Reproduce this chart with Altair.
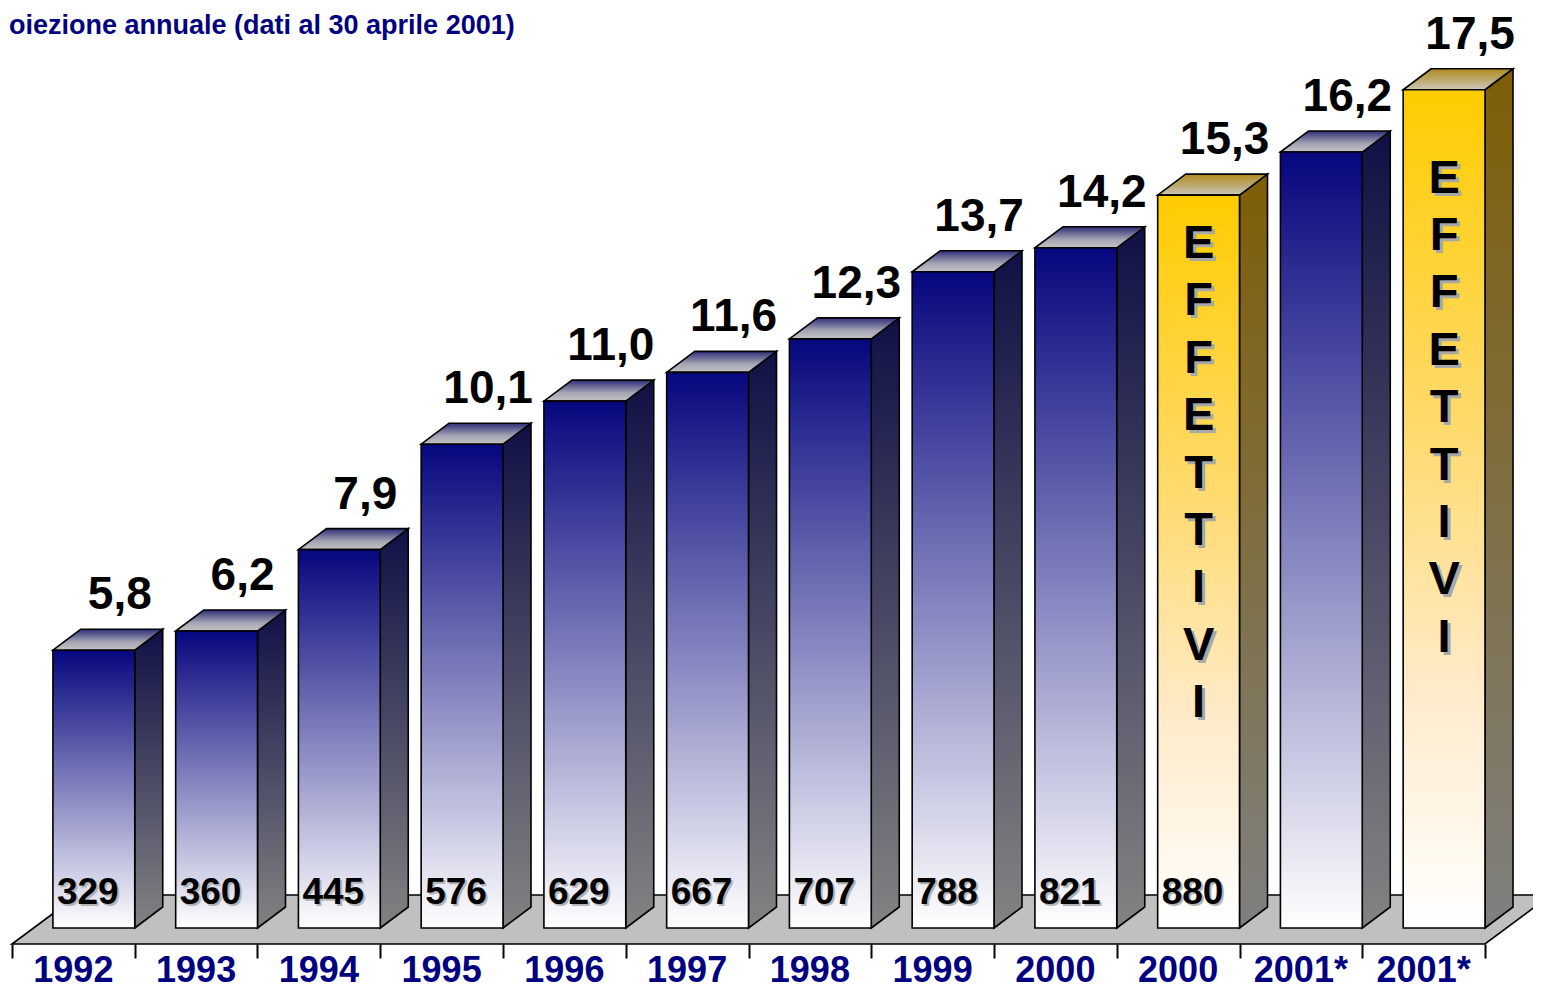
import altair as alt
import pandas as pd

# ---------------- data ----------------
years = ["1992", "1993", "1994", "1995", "1996", "1997", "1998", "1999",
         "2000", "2000", "2001*", "2001*"]
values = [5.8, 6.2, 7.9, 10.1, 11.0, 11.6, 12.3, 13.7, 14.2, 15.3, 16.2, 17.5]
counts = ["329", "360", "445", "576", "629", "667", "707", "788", "821", "880", "", ""]
kinds = ["storico"] * 9 + ["effettivi", "stima", "effettivi"]
notes = [""] * 9 + ["EFFETTIVI", "", "EFFETTIVI"]
title_text = ["oiezione annuale (dati al 30 aprile  2001)"]

# ---------------- layout (pixels) ----------------
PAGE_W = 1541
ZERO_Y = 928          # pixel row of value 0
PX_X = 122.75         # pixels per category slot
PX_Y = 47.9           # pixels per unit of value
AXIS_LEFT = 12
DEPTH_X, DEPTH_Y = 28, 21        # 3D depth of bars (px)
FLOOR_FRONT, FLOOR_BACK, FLOOR_DX = 16, 33, 66
LINE_H = 57.4
N_LETTERS = 9

n = len(values)
ddx = DEPTH_X / PX_X
ddy = DEPTH_Y / PX_Y

rows = []
for i in range(n):
    rows.append(dict(i=i, year=years[i], value=values[i], kind=kinds[i],
                     count=counts[i], note="\n".join(notes[i]) if notes[i] else "",
                     label=f"{values[i]:.1f}".replace(".", ","),
                     xl=i + 1 / 3, xr=i + 1.0, xc=i + 2 / 3, xmid=i + 0.5,
                     zero=0.0, notey=values[i] * 0.62))
bars = pd.DataFrame(rows)

side_rows, top_rows = [], []
for r in rows:
    side_rows.append(dict(i=r["i"], kind=r["kind"], x=r["xr"], y=0.0, y2=r["value"]))
    side_rows.append(dict(i=r["i"], kind=r["kind"], x=r["xr"] + ddx, y=ddy, y2=r["value"] + ddy))
    top_rows.append(dict(i=r["i"], kind=r["kind"], y=r["value"], x=r["xl"], x2=r["xr"]))
    top_rows.append(dict(i=r["i"], kind=r["kind"], y=r["value"] + ddy, x=r["xl"] + ddx, x2=r["xr"] + ddx))
side = pd.DataFrame(side_rows)
top = pd.DataFrame(top_rows)

floor = pd.DataFrame([
    dict(y=-FLOOR_FRONT / PX_Y, x=0.0, x2=float(n)),
    dict(y=FLOOR_BACK / PX_Y, x=FLOOR_DX / PX_X, x2=n + FLOOR_DX / PX_X),
])

# ---------------- scales ----------------
xs = alt.Scale(domain=[-AXIS_LEFT / PX_X, (PAGE_W - AXIS_LEFT) / PX_X], nice=False, zero=False)
ys = alt.Scale(domain=[0, ZERO_Y / PX_Y], nice=False, zero=False)
xaxis = alt.Axis(values=list(range(n + 1)), labels=False, domain=False, grid=False,
                 ticks=True, tickSize=14, tickWidth=2, tickColor="black",
                 offset=16, title=None)


def X(f):
    return alt.X(f, type="quantitative", scale=xs, axis=xaxis)


def Y(f):
    return alt.Y(f, type="quantitative", scale=ys, axis=None)


def grad(stops):
    return alt.LinearGradient(
        gradient="linear", x1=0, y1=0, x2=0, y2=1,
        stops=[alt.GradientStop(offset=o, color=c) for o, c in stops])


FONT = "Liberation Sans"
SW = 1.6
is_yel = alt.datum.kind == "effettivi"
is_blue = alt.datum.kind != "effettivi"

styles = {
    "blue": dict(
        front=grad([(0, "#06067E"), (1, "#FFFFFF")]),
        side=grad([(0, "#101046"), (1, "#838383")]),
        top=grad([(0, "#2E2E78"), (0.6, "#A4A4B4"), (1, "#C4C4C4")]),
        filt=is_blue),
    "yellow": dict(
        front=grad([(0, "#FFCC00"), (0.4, "#FFDA6C"), (0.72, "#FFEBCB"), (1, "#FFFFFF")]),
        side=grad([(0, "#7E5E06"), (1, "#808080")]),
        top=grad([(0, "#AE8A1E"), (1, "#CBC6B8")]),
        filt=is_yel),
}

layers = []
layers.append(alt.Chart(floor).mark_area(
    orient="horizontal", fill="#C0C0C0", stroke="black", strokeWidth=SW
).encode(y=Y("y"), x=X("x"), x2="x2"))

for key, st in styles.items():
    layers.append(
        alt.Chart(side).transform_filter(st["filt"]).mark_area(
            orient="vertical", fill=st["side"], stroke="black", strokeWidth=SW,
            strokeJoin="miter"
        ).encode(x=X("x"), y=Y("y"), y2="y2", detail="i:N")
    )
    layers.append(
        alt.Chart(top).transform_filter(st["filt"]).mark_area(
            orient="horizontal", fill=st["top"], stroke="black", strokeWidth=SW,
            strokeJoin="miter"
        ).encode(y=Y("y"), x=X("x"), x2="x2", detail="i:N")
    )
    layers.append(
        alt.Chart(bars).transform_filter(st["filt"]).mark_rect(
            fill=st["front"], stroke="black", strokeWidth=SW
        ).encode(x=X("xl"), x2="xr", y=Y("zero"), y2="value")
    )

# value labels above bars
layers.append(
    alt.Chart(bars).mark_text(
        font=FONT, fontSize=46, fontWeight="bold", color="black",
        align="center", baseline="alphabetic", dx=26, dy=-41
    ).encode(x=X("xc"), y=Y("value"), text="label:N")
)

# counts at bar bottoms (with soft shadow)
cnt = alt.Chart(bars).transform_filter(alt.datum.count != "")
layers.append(cnt.mark_text(
    font=FONT, fontSize=37, fontWeight="bold", color="#B4B4B4",
    align="left", baseline="alphabetic", dx=6, dy=-22
).encode(x=X("xl"), y=Y("zero"), text="count:N"))
layers.append(cnt.mark_text(
    font=FONT, fontSize=37, fontWeight="bold", color="black",
    align="left", baseline="alphabetic", dx=4, dy=-24
).encode(x=X("xl"), y=Y("zero"), text="count:N"))

# vertical "EFFETTIVI" (block centred on notey)
eff = alt.Chart(bars).transform_filter(alt.datum.note != "")
block_shift = -(N_LETTERS - 1) * LINE_H / 2
for color, off in (("#A8A8A8", 3), ("black", 0)):
    layers.append(eff.mark_text(
        font=FONT, fontSize=47, fontWeight="bold", color=color,
        align="center", baseline="middle", lineBreak="\n", lineHeight=LINE_H,
        dx=off, dy=block_shift + off
    ).encode(x=X("xc"), y=Y("notey"), text="note:N"))

# category labels
layers.append(
    alt.Chart(bars).mark_text(
        font=FONT, fontSize=36, fontWeight="bold", color="#000080",
        align="center", baseline="alphabetic", dy=54
    ).encode(x=X("xmid"), y=Y("zero"), text="year:N")
)

# heading (top-left)
layers.append(
    alt.Chart(pd.DataFrame({"t": title_text})).mark_text(
        font=FONT, fontSize=27, fontWeight="bold", color="#000080",
        align="left", baseline="alphabetic"
    ).encode(x=alt.value(9), y=alt.value(34), text="t:N")
)

chart = alt.layer(*layers).properties(
    width=PAGE_W,
    height=ZERO_Y,
    autosize=alt.AutoSizeParams(type="none"),
    padding={"left": -8, "top": -8, "right": -8, "bottom": 64},
).configure_view(stroke=None)

chart.save("out.html", embed_options={"renderer": "svg", "actions": False})
